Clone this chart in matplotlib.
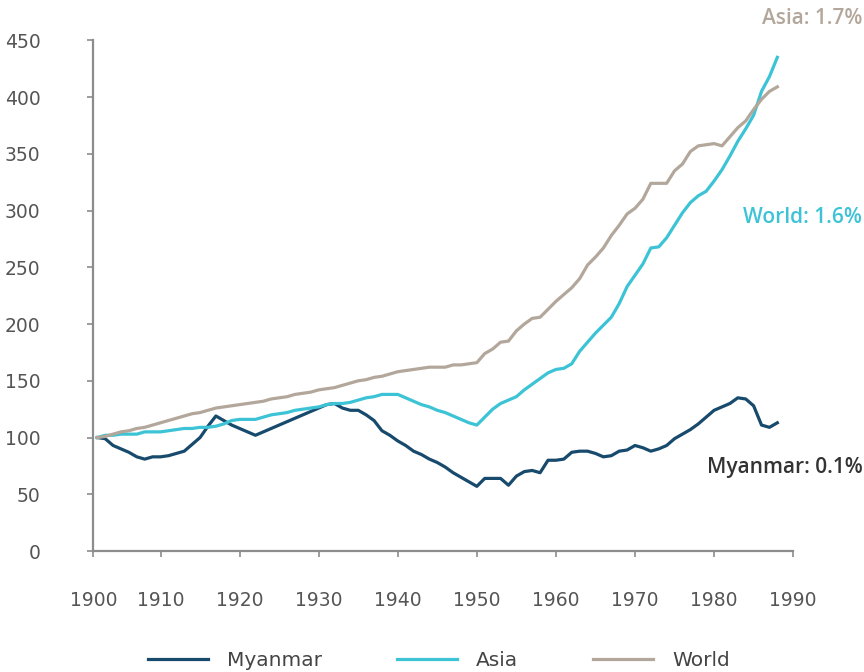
import numpy as np
import matplotlib
matplotlib.use('Agg')
import matplotlib.pyplot as plt

plt.rcParams['font.family'] = ['DejaVu Sans']

years = list(range(1902, 1989))

myanmar = [100, 99, 93, 90, 87, 83, 81, 83, 83, 84,
           86, 88, 94, 100, 110, 119, 115, 111, 108, 105,
           102, 105, 108, 111, 114, 117, 120, 123, 126, 129,
           130, 126, 124, 124, 120, 115, 106, 102, 97, 93,
           88, 85, 81, 78, 74, 69, 65, 61, 57, 64,
           64, 64, 58, 66, 70, 71, 69, 80, 80, 81,
           87, 88, 88, 86, 83, 84, 88, 89, 93, 91,
           88, 90, 93, 99, 103, 107, 112, 118, 124, 127,
           130, 135, 134, 128, 111, 109, 113]

asia = [100, 102, 102, 103, 103, 103, 105, 105, 105, 106,
        107, 108, 108, 109, 109, 110, 112, 115, 116, 116,
        116, 118, 120, 121, 122, 124, 125, 126, 127, 129,
        130, 130, 131, 133, 135, 136, 138, 138, 138, 135,
        132, 129, 127, 124, 122, 119, 116, 113, 111, 118,
        125, 130, 133, 136, 142, 147, 152, 157, 160, 161,
        165, 176, 184, 192, 199, 206, 218, 233, 243, 253,
        267, 268, 276, 287, 298, 307, 313, 317, 326, 336,
        348, 361, 372, 384, 405, 418, 435]

world = [100, 101, 103, 105, 106, 108, 109, 111, 113, 115,
         117, 119, 121, 122, 124, 126, 127, 128, 129, 130,
         131, 132, 134, 135, 136, 138, 139, 140, 142, 143,
         144, 146, 148, 150, 151, 153, 154, 156, 158, 159,
         160, 161, 162, 162, 162, 164, 164, 165, 166, 174,
         178, 184, 185, 194, 200, 205, 206, 213, 220, 226,
         232, 240, 252, 259, 267, 278, 287, 297, 302, 310,
         324, 324, 324, 335, 341, 352, 357, 358, 359, 357,
         365, 373, 379, 389, 398, 405, 409]

series_names = ['Myanmar', 'Asia', 'World']
colors = ['#174a6c', '#3cc3d6', '#b3a79b']
end_labels = ['Asia: 1.7%', 'World: 1.6%', 'Myanmar: 0.1%']

fig = plt.figure(figsize=(8.64, 6.72), dpi=100)
ax = fig.add_axes([0.108, 0.18, 0.81, 0.76])

for name, vals, c in zip(series_names, [myanmar, asia, world], colors):
    ax.plot(years, vals, color=c, lw=2.3, label=name, solid_joinstyle='round')

ax.set_xlim(1901.5, 1990)
ax.set_ylim(0, 450)
ax.set_yticks(np.arange(0, 451, 50))
xt = [1901.5] + list(range(1910, 1991, 10))
ax.set_xticks(xt)
ax.set_xticklabels([str(y) for y in range(1900, 1991, 10)])

for s in ['top', 'right']:
    ax.spines[s].set_visible(False)
for s in ['left', 'bottom']:
    ax.spines[s].set_color('#8c8c8c')
    ax.spines[s].set_linewidth(1.6)
ax.tick_params(axis='y', colors='#8c8c8c', labelcolor='#555555', labelsize=13.5,
               length=4, width=1.2, pad=34)
ax.tick_params(axis='x', colors='#8c8c8c', labelcolor='#555555', labelsize=13.5,
               length=4, width=1.2, pad=25)

# end-of-line labels (colours as in the source)
lab_font = ['Open Sans', 'DejaVu Sans']
fig.text(0.998, 0.973, end_labels[0], color='#b3a79b', fontsize=15, family=lab_font,
         fontweight='semibold', ha='right', va='center')
fig.text(0.998, 0.676, end_labels[1], color='#3cc3d6', fontsize=15, family=lab_font,
         fontweight='semibold', ha='right', va='center')
fig.text(0.998, 0.304, end_labels[2], color='#333333', fontsize=15, family=lab_font,
         fontweight='semibold', ha='right', va='center')

fig.legend(loc='lower center', bbox_to_anchor=(0.508, -0.024), ncol=3, frameon=False,
           fontsize=14.5, handlelength=3.0, columnspacing=3.7, handletextpad=0.95,
           labelcolor='#444444')

fig.savefig('out.png', dpi=100)
